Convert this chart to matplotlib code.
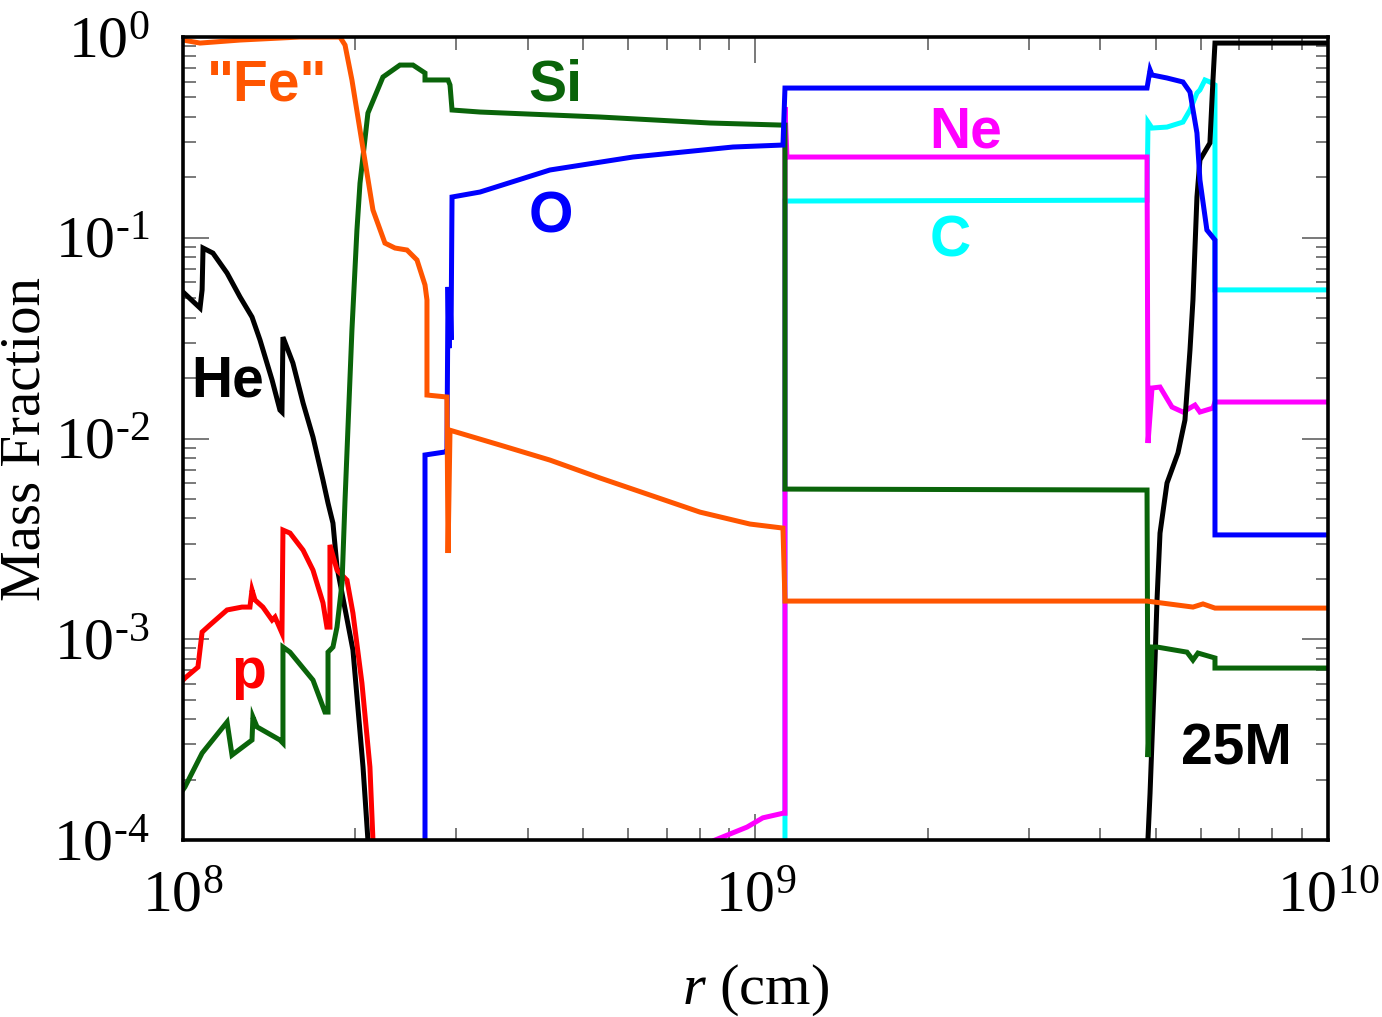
import numpy as np
import matplotlib
matplotlib.use("Agg")
import matplotlib.pyplot as plt
from matplotlib.ticker import LogLocator, NullFormatter, FuncFormatter

plt.rcParams['font.family'] = 'Liberation Serif'
plt.rcParams['mathtext.fontset'] = 'custom'
plt.rcParams['mathtext.rm'] = 'Liberation Serif'
plt.rcParams['mathtext.it'] = 'Liberation Serif:italic'

# radius in units of 1e8 cm, mass fractions
r_fe = [1.0, 1.071, 1.258, 1.601, 1.880, 1.919, 1.973, 2.038, 2.147, 2.253, 2.346, 2.462,
        2.563, 2.647, 2.668, 2.668, 2.891, 2.904, 2.927, 3.579, 4.375, 5.351, 6.543, 8.0,
        9.78, 11.17, 11.26, 48.30, 50.89, 58.10, 60.49, 63.48, 100.0]
x_fe = [0.966, 0.933, 0.966, 1.0, 1.0, 0.912, 0.611, 0.344, 0.1375, 0.0941, 0.0889, 0.0869,
        0.0775, 0.0582, 0.049, 0.01647, 0.0161, 0.00269, 0.0110, 0.00928, 0.00781, 0.00636,
        0.00523, 0.00430, 0.00375, 0.00358, 0.00155, 0.00155, 0.00152, 0.001447, 0.00150,
        0.00143, 0.00143]

r_si = [1.0, 1.008, 1.080, 1.194, 1.218, 1.320, 1.325, 1.347, 1.477, 1.495, 1.495, 1.538,
        1.687, 1.770, 1.792, 1.792, 1.828, 1.858, 1.896, 1.919, 1.973, 2.013, 2.038, 2.104,
        2.235, 2.393, 2.522, 2.647, 2.647, 2.904, 2.927, 2.951, 3.303, 5.351, 8.325, 11.17,
        11.26, 11.26, 48.30, 48.49, 49.28, 50.28, 56.72, 58.10, 59.28, 63.48, 63.48, 100.0]
x_si = [1.78e-4, 1.84e-4, 2.71e-4, 3.87e-4, 2.65e-4, 3.15e-4, 4.10e-4, 3.66e-4, 3.15e-4,
        3.04e-4, 9.15e-4, 8.63e-4, 6.26e-4, 4.34e-4, 4.34e-4, 8.63e-4, 9.15e-4, 1.15e-3,
        1.91e-3, 4.94e-3, 0.0347, 0.109, 0.187, 0.418, 0.632, 0.725, 0.725, 0.662, 0.611,
        0.611, 0.577, 0.433, 0.423, 0.3995, 0.373, 0.364, 0.364, 5.60e-3, 5.54e-3, 2.59e-4,
        9.15e-4, 9.15e-4, 8.63e-4, 7.88e-4, 8.54e-4, 8.07e-4, 7.19e-4, 7.19e-4]

r_o = [2.647, 2.647, 2.868, 2.891, 2.904, 2.915, 2.927, 2.939, 2.951, 3.303, 4.375, 6.11,
       9.135, 11.17, 11.26, 48.30, 48.89, 49.28, 52.34, 55.81, 57.41, 59.04, 59.75, 61.45,
       63.48, 63.48, 100.0]
x_o = [5e-5, 0.00828, 0.00857, 0.00857, 0.0569, 0.0282, 0.055, 0.031, 0.1596, 0.169, 0.2176,
       0.2525, 0.2832, 0.2897, 0.557, 0.557, 0.685, 0.647, 0.625, 0.597, 0.532, 0.3325,
       0.194, 0.1093, 0.0975, 0.00331, 0.00331]

r_ne = [8.50, 9.665, 10.30, 11.17, 11.26, 11.26, 11.35, 48.30, 48.49, 49.28, 50.89, 53.4,
        55.81, 58.57, 59.75, 62.97, 63.48, 100.0]
x_ne = [1.0e-4, 1.16e-4, 1.29e-4, 1.36e-4, 1.36e-4, 0.448, 0.2525, 0.2525, 0.0095, 0.01785,
        0.01805, 0.01435, 0.01355, 0.01468, 0.01355, 0.01418, 0.0152, 0.0152]

r_c = [11.26, 11.26, 48.30, 48.49, 49.28, 52.34, 55.81, 57.41, 59.04, 59.75, 60.97, 62.2,
       63.48, 63.48, 100.0]
x_c = [5e-5, 0.1524, 0.154, 0.377, 0.352, 0.356, 0.377, 0.433, 0.526, 0.545, 0.611, 0.597,
       0.577, 0.055, 0.055]

r_he = [1.0, 1.071, 1.080, 1.084, 1.128, 1.194, 1.258, 1.320, 1.363, 1.431, 1.477, 1.489,
        1.495, 1.556, 1.621, 1.687, 1.756, 1.792, 1.828, 1.858, 1.981, 2.063, 2.104, 2.12,
        48.30, 48.89, 49.88, 50.28, 50.89, 52.34, 54.7, 56.26, 57.41, 58.10, 59.04, 59.75,
        62.2, 62.97, 63.48, 100.0]
x_he = [0.0537, 0.0447, 0.055, 0.0889, 0.0839, 0.0667, 0.0507, 0.0403, 0.031, 0.01956,
        0.01386, 0.01355, 0.032, 0.02377, 0.01503, 0.01017, 0.00621, 0.00477, 0.00379,
        0.00229, 8.84e-4, 2.31e-4, 1.0e-4, 8e-5,
        8e-5, 1.71e-4, 7.88e-4, 1.57e-3, 3.38e-3, 6.0e-3, 8.47e-3, 0.01236, 0.0276, 0.049,
        0.1596, 0.244, 0.2965, 0.611, 0.933, 0.933]

r_p = [1.0, 1.008, 1.062, 1.080, 1.115, 1.194, 1.268, 1.309, 1.320, 1.336, 1.379, 1.431,
       1.448, 1.489, 1.495, 1.538, 1.621, 1.687, 1.756, 1.784, 1.806, 1.806, 1.858, 1.934,
       1.981, 2.054, 2.121, 2.147, 2.16]
x_p = [6.26e-4, 6.41e-4, 7.27e-4, 1.087e-3, 1.18e-3, 1.40e-3, 1.447e-3, 1.447e-3, 1.76e-3,
       1.57e-3, 1.447e-3, 1.247e-3, 1.29e-3, 1.074e-3, 3.50e-3, 3.38e-3, 2.78e-3, 2.21e-3,
       1.52e-3, 1.15e-3, 1.15e-3, 2.95e-3, 2.21e-3, 1.97e-3, 1.35e-3, 6.05e-4, 2.31e-4,
       1.0e-4, 7e-5]

species = [
    (r_c, x_c, '#00FFFF', 'C', 0.652, 0.727),
    (r_ne, x_ne, '#FF00FF', 'Ne', 0.652, 0.862),
    (r_he, x_he, '#000000', 'He', 0.007, 0.552),
    (r_p, x_p, '#FF0000', 'p', 0.042, 0.189),
    (r_si, x_si, '#0A640A', 'Si', 0.302, 0.9215),
    (r_o, x_o, '#0000FF', 'O', 0.302, 0.756),
    (r_fe, x_fe, '#FF5500', '"Fe"', 0.021, 0.9215),
]

fig = plt.figure(figsize=(13.82, 10.17), dpi=100)
ax = fig.add_axes([0.1324, 0.1740, 0.8285, 0.7896])

for r, x, col, name, tx, ty in species:
    ax.plot(np.array(r) * 1e8, x, color=col, lw=3.6, solid_joinstyle='miter')
    ax.text(tx, ty, name, color=col, transform=ax.transAxes, fontsize=41,
            fontweight='bold', family='Liberation Sans', ha='left', va='baseline')

ax.text(0.872, 0.0946, '25M', color='black', transform=ax.transAxes, fontsize=41,
        fontweight='bold', family='Liberation Sans', ha='left', va='baseline')

ax.set_xscale('log')
ax.set_yscale('log')
ax.set_xlim(1e8, 1e10)
ax.set_ylim(1e-4, 1e0)


def fmt(v, pos):
    e = int(round(np.log10(v)))
    if e < 0:
        return r"$10^{\text{-}%d}$" % -e
    return r"$10^{%d}$" % e


for a in (ax.xaxis, ax.yaxis):
    a.set_major_locator(LogLocator(base=10, numticks=10))
    a.set_minor_locator(LogLocator(base=10, subs=np.arange(2, 10), numticks=20))
    a.set_major_formatter(FuncFormatter(fmt))
    a.set_minor_formatter(NullFormatter())

ax.tick_params(which='both', direction='in', top=True, right=True, color='#555555',
               labelsize=43)
ax.tick_params(which='major', length=19, width=1.1)
ax.tick_params(which='minor', length=9, width=1.1)
ax.tick_params(axis='x', pad=22)
ax.tick_params(axis='y', pad=24)
for s in ax.spines.values():
    s.set_linewidth(2.6)

ax.text(-0.1375, 0.5, 'Mass Fraction', rotation=90, ha='center', va='center',
        transform=ax.transAxes, fontsize=41)
ax.text(0.5, -0.1868, r'$r$ (cm)', ha='center', va='center',
        transform=ax.transAxes, fontsize=42)

fig.savefig('out.png', dpi=100)
